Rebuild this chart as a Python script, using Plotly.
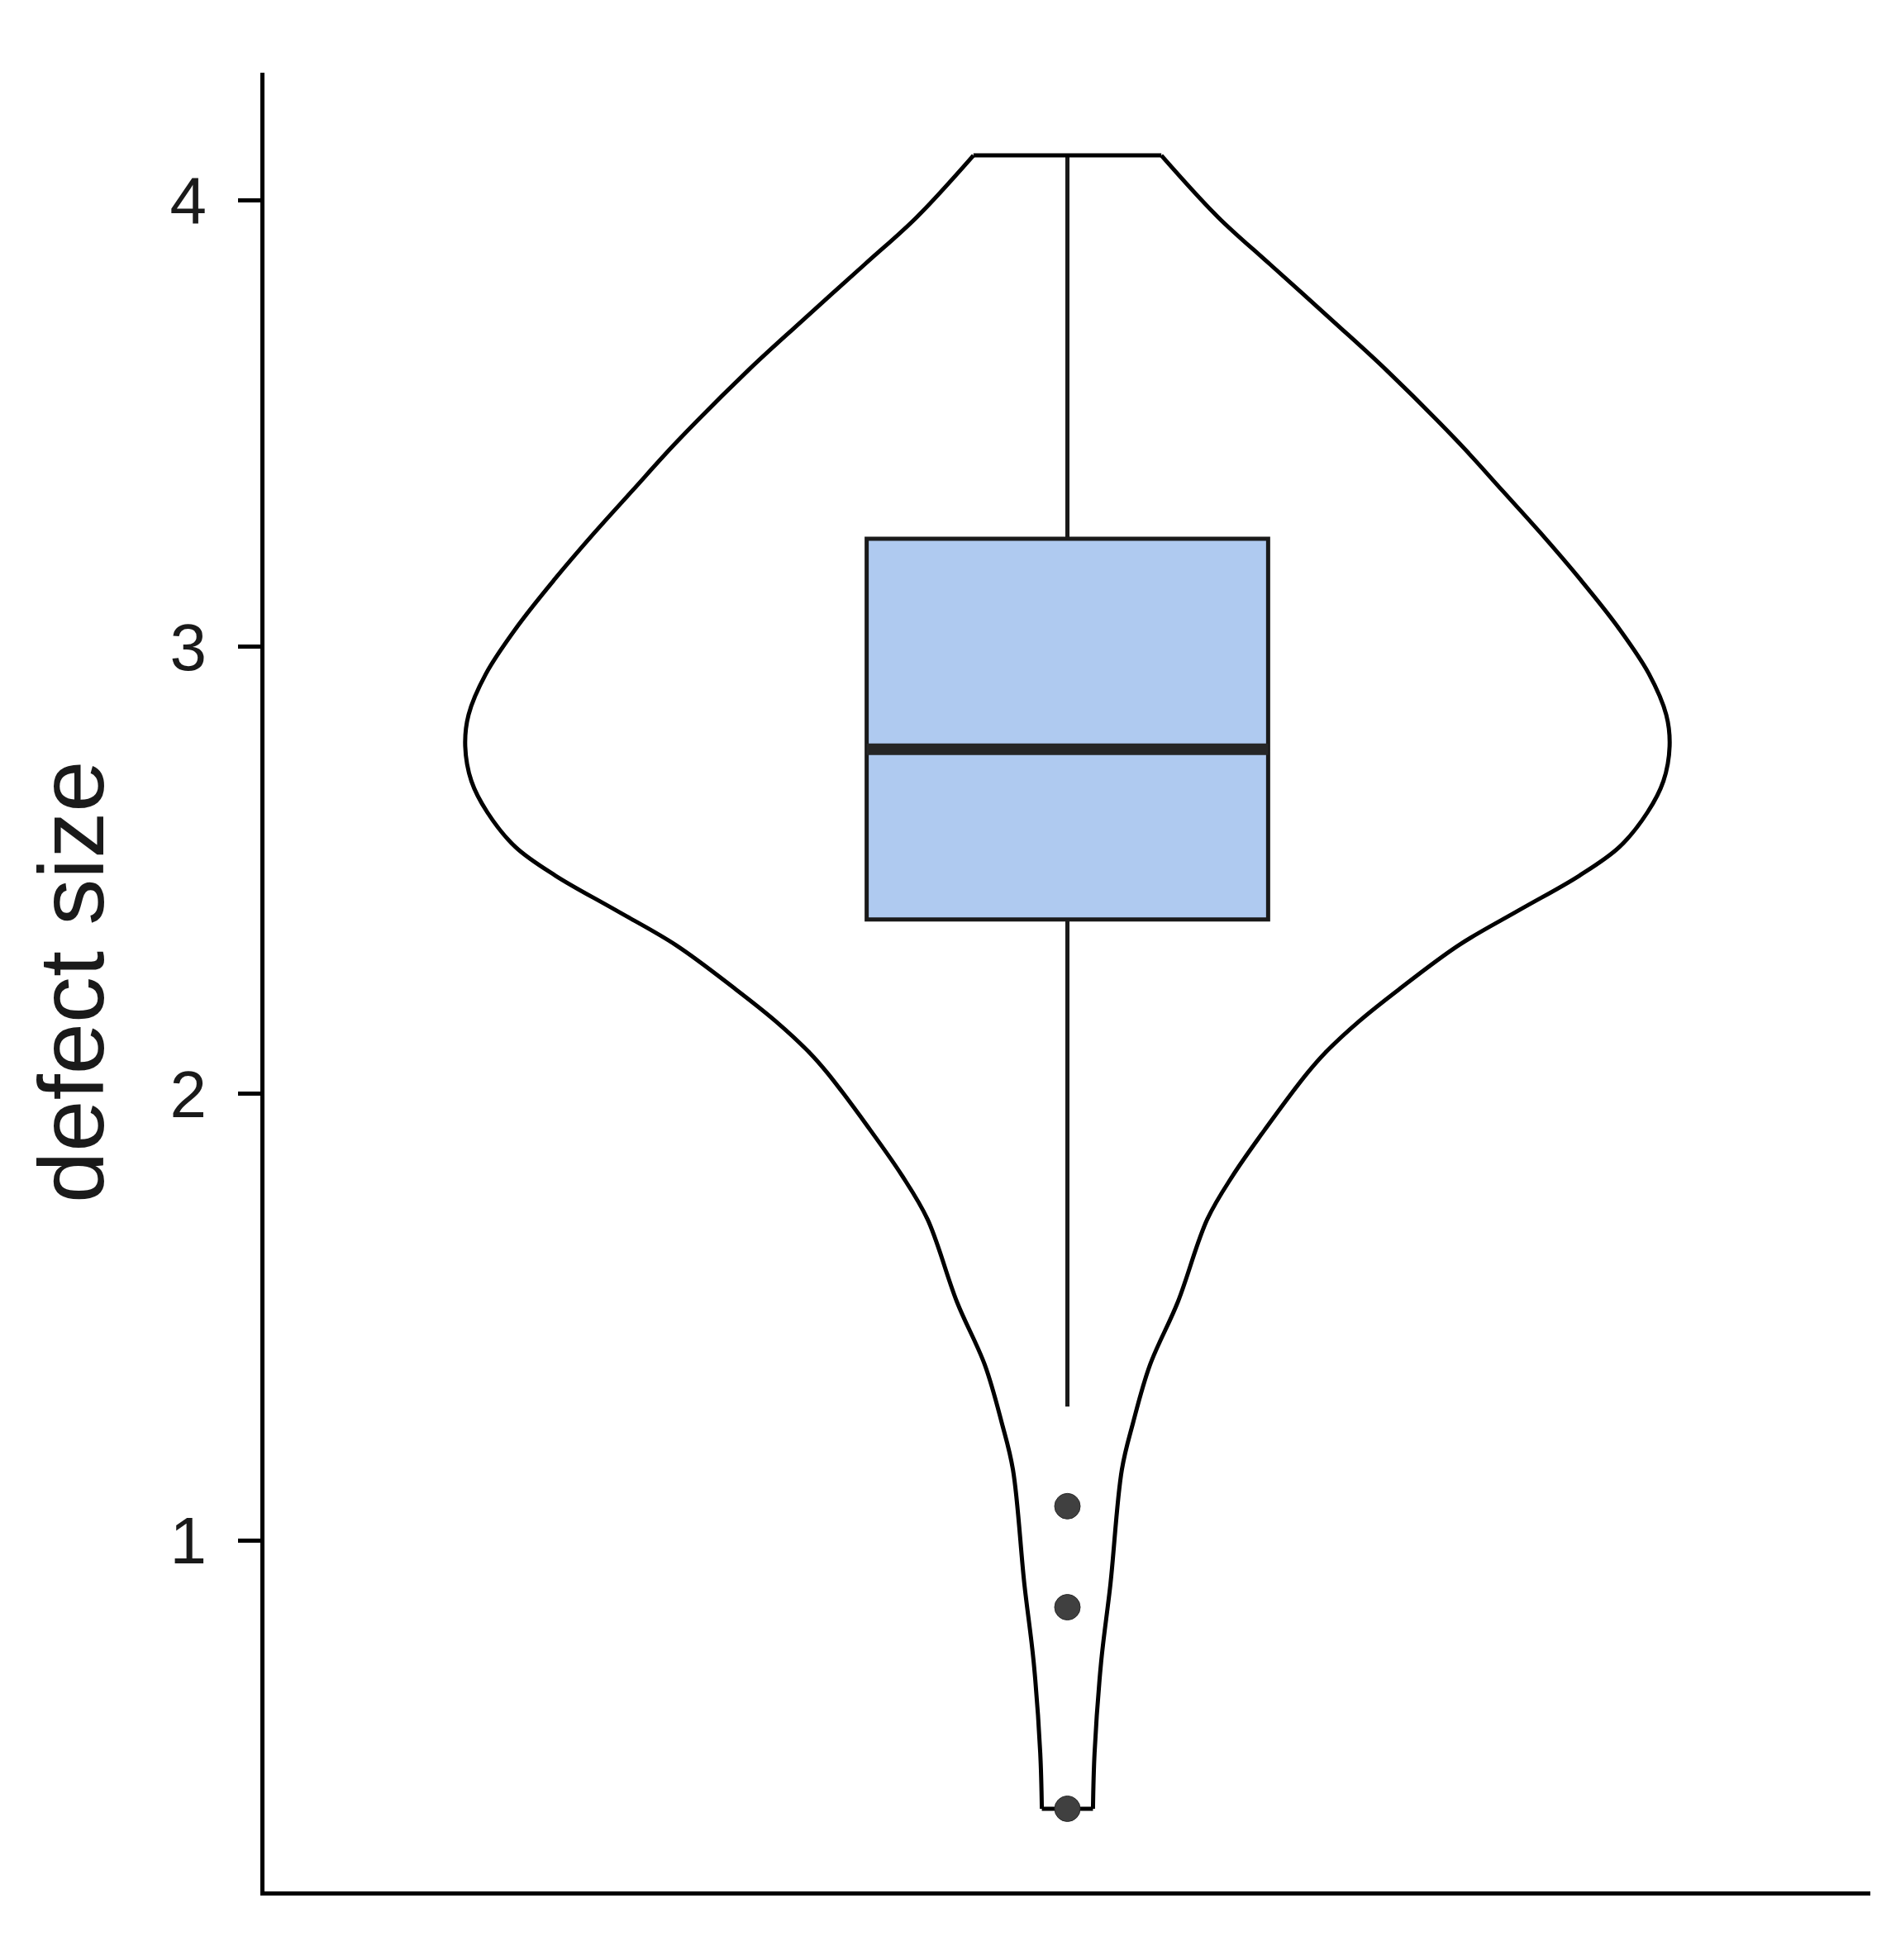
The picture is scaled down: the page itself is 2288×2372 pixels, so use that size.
import plotly.graph_objects as go

# violin outline: value and half-width (x units, category at 1)
violin_y = [4.100, 3.962, 3.856, 3.725, 3.619, 3.457, 3.350, 3.257, 3.152, 3.046,
            2.940, 2.848, 2.778, 2.700, 2.630, 2.552, 2.488, 2.411, 2.333, 2.234,
            2.163, 2.092, 2.045, 1.925, 1.817, 1.719, 1.534, 1.393, 1.263, 1.159,
            0.904, 0.728, 0.525, 0.400]
violin_hw = [0.0702, 0.1125, 0.1515, 0.2000, 0.2385, 0.2925, 0.3250, 0.3530, 0.3830, 0.4110,
             0.4345, 0.4475, 0.4500, 0.4454, 0.4335, 0.4124, 0.3825, 0.3376, 0.2927, 0.2479,
             0.2182, 0.1927, 0.1789, 0.1488, 0.1236, 0.1045, 0.0825, 0.0617, 0.0490, 0.0407,
             0.0322, 0.0252, 0.0203, 0.0191]

# box stats
q1 = 2.390
median = 2.771
q3 = 3.242
lower_whisker = 1.300
upper_whisker = 4.100
outliers = [1.077, 0.851, 0.400]

center = 1
box_width = 0.3
y_title = "defect size"
tick_vals = [1, 2, 3, 4]

FONT = "Liberation Sans, Arial, Helvetica, sans-serif"

fig = go.Figure()

right_x = [center + w for w in violin_hw]
left_x = [center - w for w in violin_hw]
for xs in (right_x, left_x):
    fig.add_trace(go.Scatter(x=xs, y=violin_y, mode="lines",
                             line=dict(color="black", width=5, shape="spline", smoothing=1),
                             hoverinfo="skip", showlegend=False))
# flat caps at top and bottom of the violin
fig.add_trace(go.Scatter(x=[left_x[0], right_x[0], None, left_x[-1], right_x[-1]],
                         y=[violin_y[0], violin_y[0], None, violin_y[-1], violin_y[-1]],
                         mode="lines", line=dict(color="black", width=5),
                         hoverinfo="skip", showlegend=False))

fig.add_trace(go.Box(x=[center], q1=[q1], median=[median], q3=[q3],
                     lowerfence=[lower_whisker], upperfence=[upper_whisker],
                     width=box_width, whiskerwidth=0, boxpoints=False,
                     fillcolor="#AFCAF0", line=dict(color="#1a1a1a", width=5),
                     showlegend=False))

# thicker median bar like ggplot
fig.add_trace(go.Scatter(x=[center - box_width / 2, center + box_width / 2], y=[median, median],
                         mode="lines", line=dict(color="#262626", width=14),
                         hoverinfo="skip", showlegend=False))

fig.add_trace(go.Scatter(x=[center] * len(outliers), y=outliers, mode="markers",
                         marker=dict(size=31, color="#404040", line=dict(color="#2a2a2a", width=1)),
                         showlegend=False))

fig.add_annotation(text=y_title, xref="paper", yref="paper", x=-0.1202, y=0.5,
                   xanchor="center", yanchor="middle", textangle=-90, showarrow=False,
                   font=dict(family=FONT, size=112, color="#1a1a1a"))

# page body adds 8px, so the figure is 8px smaller than the window
fig.update_layout(
    width=2280, height=2364,
    margin=dict(l=312, r=25, t=80, b=83),
    plot_bgcolor="white", paper_bgcolor="white",
    showlegend=False,
    xaxis=dict(range=[0.4, 1.6], showline=True, linecolor="black", linewidth=5,
               showticklabels=False, ticks="", showgrid=False, zeroline=False),
    yaxis=dict(range=[0.215, 4.285], showline=True, linecolor="black", linewidth=5,
               tickvals=tick_vals, ticks="outside", ticklen=27, tickwidth=5, tickcolor="black",
               ticklabelstandoff=22,
               tickfont=dict(family=FONT, size=80, color="#1a1a1a"),
               showgrid=False, zeroline=False),
)

fig.write_html("out.html", config={"displayModeBar": False})
